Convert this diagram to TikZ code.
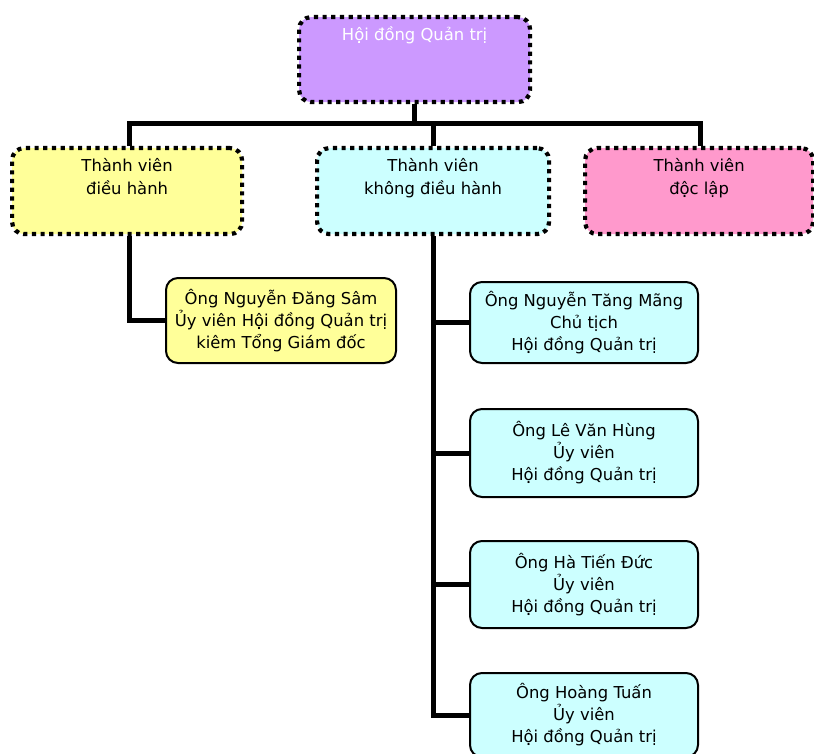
\documentclass[tikz,border=0pt]{standalone}
\usepackage{fontspec}
\setmainfont{DejaVu Sans}
\begin{document}
\begin{tikzpicture}[x=1pt,y=-1pt,
  dotbox/.style={draw=black, line width=4.2pt, dash pattern=on 4.2pt off 4.5pt,
    rounded corners=12pt, minimum width=230pt, minimum height=86pt,
    inner xsep=4pt, inner ysep=10pt, anchor=north west},
  solidbox/.style={draw=black, line width=2pt, rounded corners=12pt,
    minimum width=228pt, inner sep=2pt, anchor=north west, align=center,
    font=\fontsize{16.4}{22}\selectfont},
  conn/.style={draw=black, line width=5pt},
]
\definecolor{cPurple}{HTML}{CC99FF}
\definecolor{cYellow}{HTML}{FFFF99}
\definecolor{cCyan}{HTML}{CCFFFF}
\definecolor{cPink}{HTML}{FF99CC}
\newcommand\toptext[2]{\parbox[t][#1][t]{220pt}{\centering\fontsize{16.4}{23}\selectfont #2}}
\useasboundingbox (0,0) rectangle (814,754);

% board and the three groups of members
\node[dotbox, fill=cPurple, text=white, minimum width=231pt, minimum height=85pt, inner ysep=9pt] (board) at (297,15)
  {\toptext{66pt}{Hội đồng Quản trị}};
\node[dotbox, fill=cYellow] (exec) at (10,146) {\toptext{66pt}{Thành viên\\điều hành}};
\node[dotbox, fill=cCyan, minimum width=232pt] (nonexec) at (315,146) {\toptext{66pt}{Thành viên\\không điều hành}};
\node[dotbox, fill=cPink, minimum width=227pt] (indep) at (583,146) {\toptext{66pt}{Thành viên\\độc lập}};

% individual members
\node[solidbox, fill=cYellow, minimum width=230pt, minimum height=85pt] (sam) at (165,277)
  {Ông Nguyễn Đăng Sâm\\Ủy viên Hội đồng Quản trị\\kiêm Tổng Giám đốc};
\node[solidbox, fill=cCyan, minimum height=81pt] (mang) at (469,281)
  {Ông Nguyễn Tăng Mãng\\Chủ tịch\\Hội đồng Quản trị};
\node[solidbox, fill=cCyan, minimum height=88pt] (hung) at (469,408)
  {Ông Lê Văn Hùng\\Ủy viên\\Hội đồng Quản trị};
\node[solidbox, fill=cCyan, minimum height=87pt] (duc) at (469,540)
  {Ông Hà Tiến Đức\\Ủy viên\\Hội đồng Quản trị};
\node[solidbox, fill=cCyan, minimum height=84pt] (tuan) at (469,672)
  {Ông Hoàng Tuấn\\Ủy viên\\Hội đồng Quản trị};

% connectors
\coordinate (bus) at (0,124);
\draw[conn] (board.south) -- (board.south |- bus);
\draw[conn] ([xshift=2pt]exec.north) |- ([xshift=1.5pt]indep.north |- bus) -- ([xshift=1.5pt]indep.north);
\draw[conn] (nonexec.north) -- (nonexec.north |- bus);
\draw[conn] ([xshift=2pt]exec.south) |- (sam.west);
\draw[conn] (nonexec.south) |- (tuan.west);
\draw[conn] (nonexec.south |- mang.west) -- (mang.west);
\draw[conn] (nonexec.south |- hung.west) -- (hung.west);
\draw[conn] (nonexec.south |- duc.west) -- (duc.west);
\end{tikzpicture}
\end{document}
